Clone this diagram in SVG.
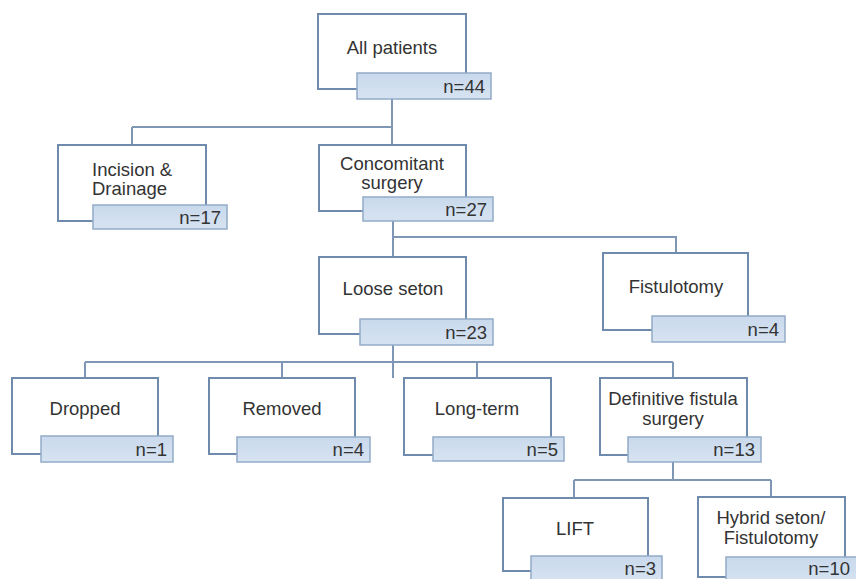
<svg xmlns="http://www.w3.org/2000/svg" width="856" height="579" viewBox="0 0 856 579">
<defs>
<linearGradient id="nfill" x1="0" y1="0" x2="0" y2="1">
<stop offset="0" stop-color="#c9d9ec"/>
<stop offset="1" stop-color="#d6e3f1"/>
</linearGradient>
</defs>
<style>
.box{fill:#ffffff;stroke:#6e8bae;stroke-width:2}
.nbox{fill:url(#nfill);stroke:#93abc8;stroke-width:1.5}
.lbl{font-family:"Liberation Sans",Arial,sans-serif;font-size:18.5px;fill:#333333;text-anchor:middle}
.num{font-family:"Liberation Sans",Arial,sans-serif;font-size:18.5px;fill:#333333;text-anchor:end}
.conn{fill:none;stroke:#7f97b5;stroke-width:2}
</style>
<rect width="856" height="579" fill="#ffffff"/>
<g id="connectors">
<path class="conn" d="M392 99V127M132 127H392M132 127V145M392 127V145"/>
<path class="conn" d="M393 221V257M393 237H676V253"/>
<path class="conn" d="M393 345V378M85 362H673M85 362V378M282 362V378M477 362V378M673 362V378"/>
<path class="conn" d="M673 462V480M574 480H771M574 480V498M771 480V497"/>
</g>
<g id="all-patients">
<rect class="box" x="318" y="14" width="148" height="75"/>
<text class="lbl" x="392" y="54">All patients</text>
<rect class="nbox" x="357" y="73" width="134" height="26"/>
<text class="num" x="485" y="93">n=44</text>
</g>
<g id="incision-drainage">
<rect class="box" x="58" y="145" width="148" height="76"/>
<text class="lbl" x="92" y="176" style="text-anchor:start">Incision &amp;</text>
<text class="lbl" x="92" y="195" style="text-anchor:start">Drainage</text>
<rect class="nbox" x="93" y="205" width="134" height="24"/>
<text class="num" x="221" y="224">n=17</text>
</g>
<g id="concomitant-surgery">
<rect class="box" x="319" y="145" width="147" height="66"/>
<text class="lbl" x="392" y="170">Concomitant</text>
<text class="lbl" x="392" y="189">surgery</text>
<rect class="nbox" x="363" y="197" width="130" height="24"/>
<text class="num" x="487" y="216">n=27</text>
</g>
<g id="loose-seton">
<rect class="box" x="319" y="257" width="147" height="77"/>
<text class="lbl" x="393" y="295">Loose seton</text>
<rect class="nbox" x="360" y="319" width="133" height="26"/>
<text class="num" x="487" y="339">n=23</text>
</g>
<g id="fistulotomy">
<rect class="box" x="603" y="253" width="145" height="77"/>
<text class="lbl" x="676" y="293">Fistulotomy</text>
<rect class="nbox" x="652" y="316" width="133" height="26"/>
<text class="num" x="779" y="336">n=4</text>
</g>
<g id="dropped">
<rect class="box" x="12" y="378" width="146" height="76"/>
<text class="lbl" x="85" y="415">Dropped</text>
<rect class="nbox" x="41" y="436" width="132" height="26"/>
<text class="num" x="167" y="456">n=1</text>
</g>
<g id="removed">
<rect class="box" x="209" y="378" width="146" height="76"/>
<text class="lbl" x="282" y="415">Removed</text>
<rect class="nbox" x="237" y="437" width="133" height="25"/>
<text class="num" x="364" y="456">n=4</text>
</g>
<g id="long-term">
<rect class="box" x="404" y="378" width="147" height="77"/>
<text class="lbl" x="477" y="415">Long-term</text>
<rect class="nbox" x="433" y="437" width="131" height="24"/>
<text class="num" x="558" y="456">n=5</text>
</g>
<g id="definitive-fistula-surgery">
<rect class="box" x="600" y="378" width="147" height="77"/>
<text class="lbl" x="673" y="405">Definitive fistula</text>
<text class="lbl" x="673" y="425">surgery</text>
<rect class="nbox" x="628" y="437" width="133" height="25"/>
<text class="num" x="755" y="456">n=13</text>
</g>
<g id="lift">
<rect class="box" x="503" y="498" width="145" height="73"/>
<text class="lbl" x="575" y="535">LIFT</text>
<rect class="nbox" x="531" y="556" width="131" height="26"/>
<text class="num" x="656" y="575">n=3</text>
</g>
<g id="hybrid-seton-fistulotomy">
<rect class="box" x="698" y="497" width="147" height="80"/>
<text class="lbl" x="771" y="524">Hybrid seton/</text>
<text class="lbl" x="771" y="544">Fistulotomy</text>
<rect class="nbox" x="726" y="557" width="134" height="26"/>
<text class="num" x="850" y="575">n=10</text>
</g>
</svg>
